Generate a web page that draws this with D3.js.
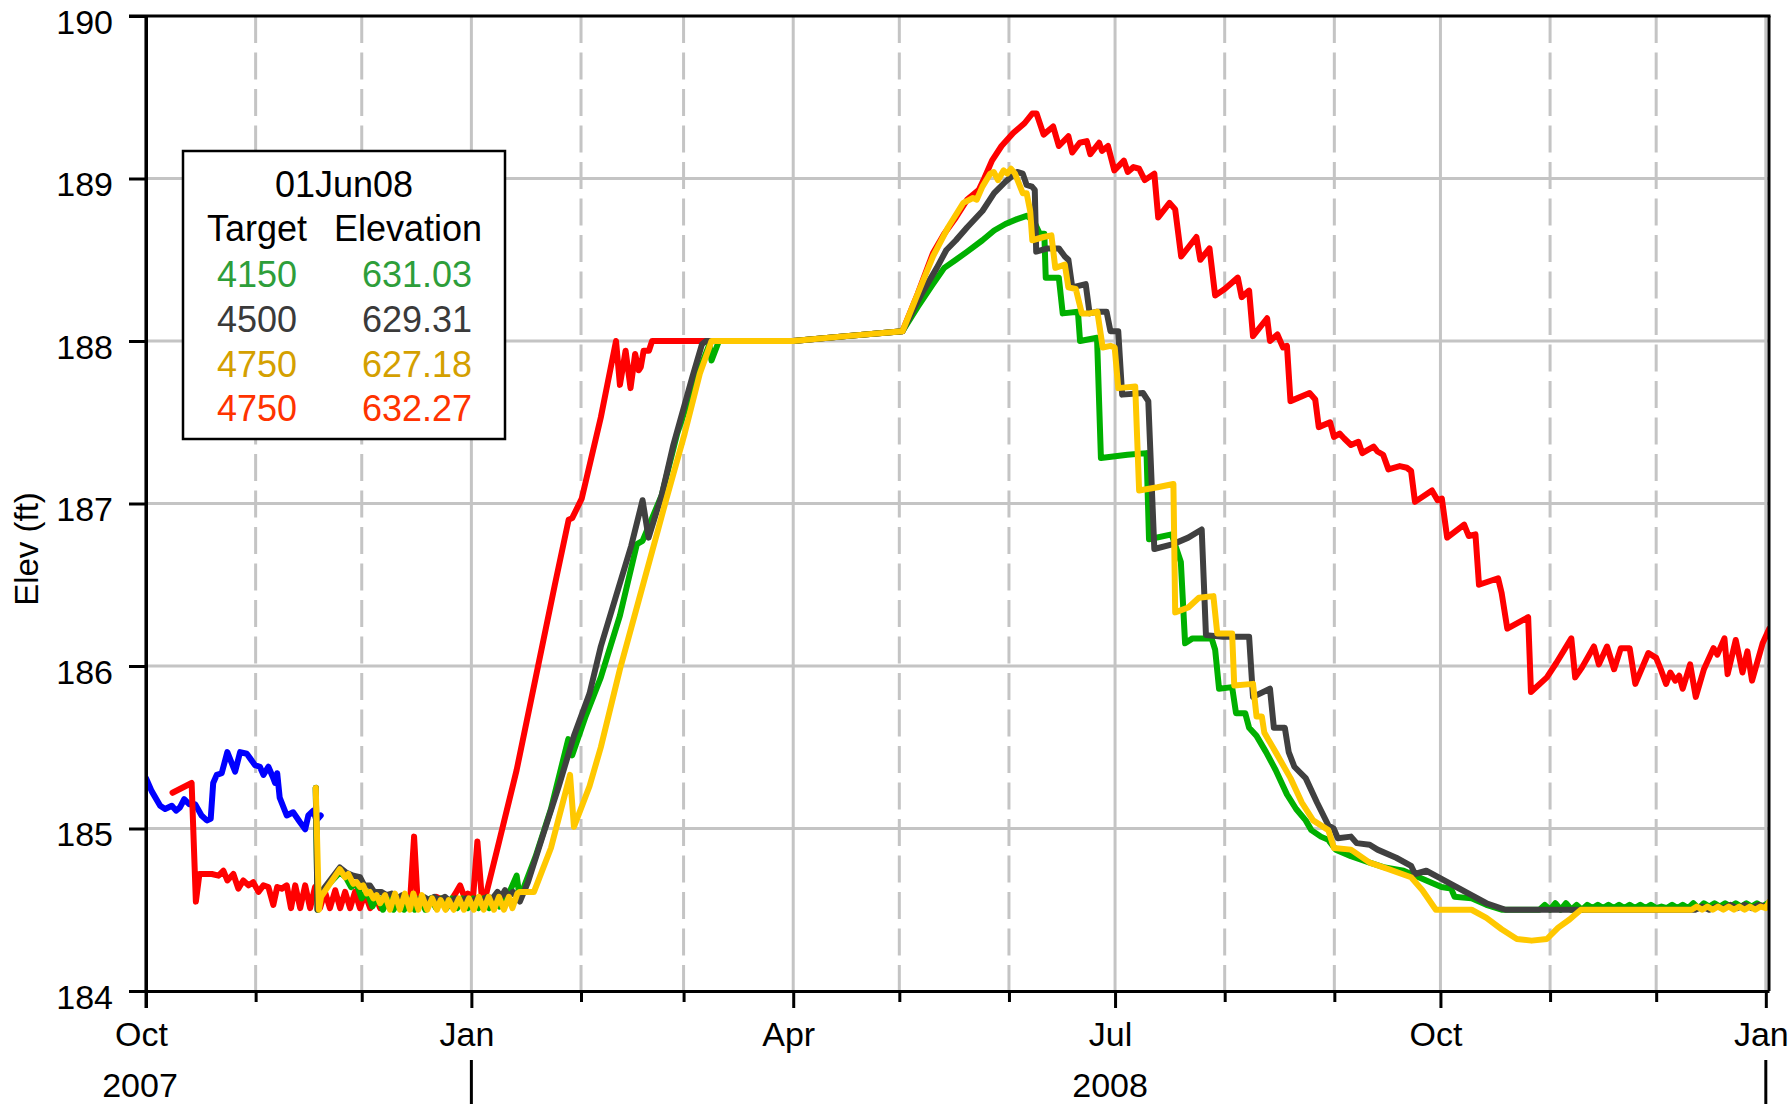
<!DOCTYPE html>
<html><head><meta charset="utf-8">
<script src="https://cdn.jsdelivr.net/npm/d3@7"></script>
<style>
body{margin:0;background:#fff}
svg{display:block}
text{font-family:"Liberation Sans",Arial,Helvetica,sans-serif}
</style>
</head><body>
<svg id="chart" width="1791" height="1104"></svg>
<script>
// ---------------- DATA ----------------
// Each point: [days since 1 Oct 2007, elevation (ft)]
const startDateUTC = [2007, 9, 1];
const endDayOffset = 458.9;
const yTickValues = [184, 185, 186, 187, 188, 189, 190];
const monthLabels = {0: "Jan", 3: "Apr", 6: "Jul", 9: "Oct"};
const yearLabels = [{year: "2007", at: 0}, {year: "2008", at: 274}];
const yearSeparators = [92, 458];
const yAxisTitle = "Elev (ft)";
const legendTitle = "01Jun08";
const legendHeader = ["Target", "Elevation"];
const legendTargets = ["4150", "4500", "4750", "4750"];
const legendElevations = ["631.03", "629.31", "627.18", "632.27"];

const observed = [[0,185.31],[1.6,185.23],[4,185.14],[5.4,185.12],[7.3,185.14],[8.5,185.11],[9.6,185.13],[10.8,185.18],[12.2,185.15],[13.9,185.15],[15.7,185.08],[17.2,185.05],[18.3,185.06],[19,185.28],[20,185.33],[21.4,185.34],[23,185.47],[25.2,185.35],[26.6,185.47],[28.5,185.46],[29.5,185.43],[30.8,185.39],[32.2,185.38],[33.2,185.33],[34.6,185.38],[35.8,185.32],[36.5,185.28],[37.1,185.34],[37.8,185.19],[39.8,185.08],[41.6,185.10],[43.5,185.04],[45,184.995],[45.9,185.08],[47.3,185.11],[48.2,185.05],[49.4,185.08]];

const target4750b = [[7.5,185.22],[12.9,185.28],[14.1,184.55],[15.1,184.72],[18.6,184.72],[20.5,184.71],[21.9,184.74],[23,184.68],[24.7,184.72],[26.1,184.63],[27.5,184.68],[29,184.65],[30.3,184.67],[31.8,184.61],[33.2,184.65],[34.6,184.64],[36,184.53],[37.1,184.64],[38.4,184.63],[39.8,184.65],[41,184.51],[42.2,184.65],[43.6,184.51],[45,184.65],[46.4,184.51],[47.8,184.64],[49.2,184.51],[50.6,184.61],[52,184.51],[53.5,184.62],[54.9,184.51],[56.3,184.61],[57.7,184.51],[59.1,184.61],[60.5,184.51],[61.9,184.60],[63.4,184.51],[64.8,184.59],[66.2,184.51],[67.6,184.59],[69,184.51],[70.4,184.58],[71.8,184.51],[73.2,184.58],[74.6,184.53],[75.8,184.95],[76.8,184.55],[78.5,184.57],[80,184.54],[82,184.58],[84,184.56],[86,184.55],[87.5,184.60],[88.8,184.65],[90,184.58],[91,184.60],[92.5,184.58],[93.7,184.92],[95,184.56],[96.1,184.59],[99.4,184.88],[104.8,185.36],[110.2,185.93],[115.6,186.50],[119.5,186.90],[120.5,186.91],[123.2,187.03],[128.6,187.53],[132.9,188.0],[134,187.73],[135.6,187.94],[137,187.71],[138.3,187.92],[139.3,187.82],[139.9,187.84],[140.7,187.94],[142.2,187.94],[143.1,188.0],[157.7,188.0],[183,188.0],[198,188.03],[213.9,188.06],[218.2,188.29],[222.5,188.54],[225.7,188.66],[229,188.76],[232.2,188.87],[235.5,188.93],[237,189.0],[239.2,189.11],[241.9,189.20],[245.2,189.28],[248.4,189.34],[250.6,189.40],[251.8,189.40],[253.8,189.27],[256.5,189.32],[258.1,189.20],[260.8,189.26],[261.9,189.16],[264,189.22],[266,189.23],[267,189.15],[269.5,189.22],[270.3,189.17],[272,189.20],[273.8,189.05],[276.5,189.11],[277.6,189.04],[279.2,189.07],[280.8,189.06],[282.4,188.99],[285.1,189.03],[286.2,188.76],[289.4,188.85],[291,188.81],[292.7,188.52],[297,188.64],[298.1,188.50],[300.7,188.57],[302.3,188.28],[305,188.32],[308.7,188.39],[309.8,188.27],[311.9,188.31],[313,188.03],[317,188.14],[317.8,188.0],[319.9,188.04],[321.5,187.96],[322.6,187.97],[323.6,187.63],[329,187.68],[330.6,187.64],[331.6,187.47],[334.8,187.50],[335.9,187.41],[337.5,187.43],[338.8,187.40],[340.7,187.36],[342.8,187.38],[343.9,187.31],[347.1,187.35],[348.2,187.32],[349.8,187.30],[351.3,187.21],[354.5,187.23],[356.5,187.22],[357.7,187.20],[358.8,187.01],[363.6,187.08],[365.2,187.02],[366.4,187.03],[367.9,186.79],[372.7,186.87],[374,186.80],[375.9,186.81],[376.9,186.50],[382.3,186.54],[383.3,186.45],[384.9,186.23],[390.8,186.30],[391.6,185.84],[396.1,185.93],[398.8,186.02],[403,186.17],[404.1,185.93],[406,185.99],[409.4,186.12],[410.8,186.01],[413.1,186.12],[415.1,185.98],[417,186.11],[419.5,186.11],[421.1,185.89],[424.8,186.08],[427,186.05],[428.3,185.98],[429.8,185.89],[431,185.96],[432.4,185.91],[433.5,185.94],[434.5,185.86],[436.6,186.01],[438.2,185.81],[440.5,185.98],[443.2,186.11],[444.3,186.07],[446.3,186.17],[447.2,185.95],[449.5,186.16],[451.4,185.96],[452.8,186.09],[454.1,185.91],[457.1,186.14],[459,186.23]];

const target4150 = [[48,185.25],[48.5,184.50],[49.2,184.60],[54.8,184.73],[56.5,184.70],[58,184.64],[59.5,184.66],[61,184.57],[62.5,184.61],[64,184.52],[65.5,184.58],[67,184.50],[68.5,184.57],[70,184.50],[71.5,184.57],[73,184.50],[74.5,184.57],[76,184.50],[77.5,184.57],[79,184.50],[80.5,184.57],[82,184.51],[83.5,184.57],[85,184.51],[86.5,184.57],[88,184.51],[89.5,184.57],[91,184.51],[92.5,184.57],[94,184.51],[95.5,184.57],[97,184.51],[98.5,184.57],[100,184.52],[101.5,184.58],[103,184.62],[104.8,184.71],[105.5,184.60],[106.5,184.62],[110.2,184.83],[114.5,185.12],[119.4,185.55],[120.5,185.45],[124.3,185.69],[128.6,185.93],[134,186.31],[138.8,186.75],[140.4,186.77],[145.8,187.05],[150.2,187.43],[154.5,187.71],[159.3,187.98],[159.9,187.88],[162,188.0],[183,188.0],[198,188.03],[213.9,188.06],[218.2,188.21],[222.5,188.35],[225.7,188.45],[229,188.50],[232.2,188.55],[236.5,188.62],[239.8,188.68],[243,188.72],[246.3,188.75],[249,188.77],[251,188.74],[252.7,188.66],[254,188.66],[254.4,188.39],[258.1,188.39],[259.2,188.17],[263.5,188.18],[264.1,188.0],[268.9,188.02],[270,187.28],[277.5,187.30],[282.9,187.31],[283.6,186.78],[290,186.81],[292.6,186.64],[293.8,186.14],[295.9,186.17],[301.3,186.17],[302.3,186.10],[303.4,185.86],[307.1,185.87],[308.2,185.71],[310.8,185.71],[311.9,185.62],[314,185.57],[316.7,185.47],[319.4,185.36],[322.6,185.21],[325.2,185.12],[327.9,185.05],[329.5,184.99],[332.2,184.95],[334.3,184.93],[336.4,184.87],[340.7,184.83],[346,184.79],[350.3,184.76],[355.6,184.74],[362,184.68],[366.3,184.64],[369,184.63],[370,184.58],[374.8,184.57],[379,184.53],[383.3,184.50],[394,184.50],[395.5,184.53],[397,184.50],[398.5,184.54],[400,184.50],[401.5,184.54],[403,184.50],[404.5,184.53],[406,184.50],[407.5,184.53],[409,184.51],[410.5,184.53],[412,184.51],[413.5,184.53],[415,184.51],[416.5,184.53],[418,184.51],[419.5,184.53],[421,184.51],[422.5,184.53],[424,184.51],[425.5,184.53],[427,184.51],[428.5,184.52],[430,184.51],[431.5,184.53],[433,184.51],[434.5,184.53],[436,184.51],[437.5,184.54],[439,184.51],[440.5,184.54],[442,184.52],[443.5,184.54],[445,184.52],[446.5,184.54],[448,184.52],[449.5,184.54],[451,184.52],[452.5,184.54],[454,184.52],[455.5,184.54],[457,184.52],[458.5,184.54],[459,184.54]];

const target4500 = [[48,185.25],[48.5,184.50],[49.2,184.60],[54.8,184.76],[56.5,184.73],[58.6,184.71],[60.5,184.70],[61.7,184.65],[63.3,184.65],[64.5,184.61],[66.5,184.61],[68,184.59],[69.5,184.60],[71,184.57],[72.5,184.59],[74,184.56],[75.5,184.58],[77,184.56],[78.5,184.58],[80,184.56],[81.5,184.58],[83,184.56],[84.5,184.58],[86,184.55],[87.5,184.57],[89,184.55],[90.5,184.57],[92,184.55],[93.5,184.57],[95,184.55],[96.5,184.58],[98,184.57],[99.4,184.61],[100.5,184.58],[101.5,184.62],[102.5,184.58],[103.8,184.61],[105.7,184.55],[108,184.67],[112.4,184.97],[116.7,185.26],[121,185.57],[125.4,185.83],[128.6,186.12],[132.9,186.43],[137.2,186.74],[140.4,187.02],[142.1,186.79],[145.8,187.05],[149.1,187.36],[154.5,187.78],[157.2,187.98],[158.3,188.0],[183,188.0],[198,188.03],[213.9,188.06],[219.3,188.29],[223.6,188.45],[226.3,188.56],[229,188.62],[232.2,188.70],[236.5,188.80],[239.8,188.91],[243,188.98],[244.6,189.01],[246.3,189.04],[247.9,189.03],[249,188.96],[250.5,188.95],[251.3,188.93],[251.7,188.55],[254.9,188.57],[258.1,188.57],[259.8,188.52],[260.8,188.50],[261.9,188.33],[265.7,188.35],[266.8,188.17],[268.9,188.18],[271.6,188.18],[272.7,188.06],[274.9,188.06],[276,187.67],[281.9,187.68],[283.4,187.63],[285.1,186.72],[290.4,186.75],[294.7,186.79],[298.5,186.84],[299.7,186.19],[304.5,186.18],[311.9,186.18],[313,185.81],[317.8,185.86],[318.9,185.62],[322,185.62],[323.1,185.47],[324.7,185.38],[327.9,185.31],[331.1,185.16],[334.3,185.02],[335.8,185.00],[337,184.94],[340.7,184.95],[342.3,184.91],[346,184.90],[348.2,184.87],[353.5,184.82],[357.7,184.77],[358.8,184.72],[362,184.74],[366.3,184.69],[370.5,184.64],[374.8,184.59],[379,184.54],[384.4,184.50],[438,184.50],[440,184.52],[442,184.50],[444,184.52],[446,184.51],[448,184.53],[450,184.51],[452,184.53],[454,184.51],[456,184.53],[458,184.52],[459,184.53]];

const target4750 = [[48,185.25],[48.9,184.50],[49.5,184.58],[54.8,184.75],[56.3,184.70],[57.2,184.72],[58.6,184.66],[59.5,184.67],[60.5,184.64],[61.4,184.65],[62.4,184.60],[63.3,184.61],[64.3,184.57],[65.2,184.59],[66.2,184.54],[67.6,184.59],[69,184.50],[70.4,184.60],[71.8,184.50],[73.2,184.60],[74.6,184.50],[75.6,184.60],[77,184.50],[78,184.59],[79.5,184.50],[80.9,184.57],[82.3,184.50],[83.3,184.56],[84.7,184.50],[85.6,184.56],[87,184.50],[88.5,184.57],[89.9,184.50],[91.3,184.57],[92.7,184.50],[94.1,184.58],[95.5,184.50],[96.9,184.58],[98.4,184.50],[99.8,184.58],[101.2,184.50],[102.6,184.58],[103.6,184.51],[105,184.60],[105.7,184.61],[109.7,184.61],[114.5,184.88],[119.9,185.33],[121,185.01],[125.4,185.26],[128.6,185.50],[134,185.98],[139.4,186.41],[144.8,186.84],[146.9,187.01],[152.3,187.43],[156.6,187.80],[159.9,188.0],[183,188.0],[198,188.03],[213.9,188.06],[218.2,188.29],[222.5,188.52],[226.8,188.70],[231.1,188.85],[233.8,188.88],[234.9,188.87],[236.5,188.95],[238.7,189.03],[239.7,189.04],[240.9,188.99],[242.5,189.05],[243.5,189.03],[244.6,189.06],[245.7,189.03],[246.8,188.97],[247.9,188.91],[249,188.91],[250,188.80],[250.6,188.62],[253.8,188.64],[256,188.65],[257.1,188.45],[259.8,188.47],[260.8,188.33],[262.9,188.32],[264.6,188.17],[266.8,188.17],[269,188.18],[270.5,187.96],[272.7,187.97],[273.9,187.96],[274.9,187.71],[279.7,187.72],[280.8,187.08],[286,187.10],[290.5,187.12],[291,186.33],[294.7,186.36],[297.7,186.42],[301.8,186.43],[302.9,186.20],[307.1,186.20],[307.7,185.88],[313,185.89],[314,185.69],[315.5,185.69],[316.2,185.59],[319.4,185.47],[323.6,185.31],[326.8,185.16],[330,185.05],[334.3,184.99],[335.9,184.88],[340.7,184.87],[346,184.79],[351.3,184.75],[357.7,184.70],[360.9,184.62],[364.7,184.50],[374.8,184.50],[379,184.45],[383.3,184.38],[387.6,184.32],[391.8,184.31],[396.1,184.32],[399.3,184.39],[402.5,184.44],[405.7,184.50],[437,184.50],[438.5,184.52],[440,184.50],[441.5,184.52],[443,184.50],[444.5,184.52],[446,184.50],[447.5,184.52],[449,184.50],[450.5,184.52],[452,184.50],[453.5,184.52],[455,184.50],[456.5,184.52],[458,184.51],[459,184.55]];

// ---------------- STYLE ----------------
const seriesList = [
  {data: observed,    color: "#0000ff"},
  {data: target4750b, color: "#ff0000"},
  {data: target4150,  color: "#00b000"},
  {data: target4500,  color: "#404040"},
  {data: target4750,  color: "#ffc800"}
];
const legendColors = ["#2e9e3a", "#3a3a3a", "#d4a000", "#ff3300"];

const W = 1791, H = 1104;
const M = {left: 146, right: 1769, top: 16, bottom: 991};

const svg = d3.select("#chart");
svg.append("rect").attr("width", W).attr("height", H).attr("fill", "#fff");

const t0 = Date.UTC(...startDateUTC);
const toDate = d => new Date(t0 + d * 864e5);

const x = d3.scaleUtc().domain([toDate(0), toDate(endDayOffset)]).range([M.left, M.right]);
const y = d3.scaleLinear().domain([184, 190]).range([M.bottom, M.top]);

const months = d3.utcMonth.range(toDate(0), toDate(endDayOffset));
const isQuarter = m => m.getUTCMonth() % 3 === 0;

// Grid
const grid = svg.append("g");
grid.selectAll(".hg").data(yTickValues.filter(v => v > 184 && v < 190)).join("line")
  .attr("x1", M.left).attr("x2", M.right)
  .attr("y1", d => y(d)).attr("y2", d => y(d))
  .attr("stroke", "#c4c4c4").attr("stroke-width", 3);
grid.selectAll(".vg").data(months).join("line")
  .attr("x1", d => x(d)).attr("x2", d => x(d))
  .attr("y1", M.top).attr("y2", M.bottom)
  .attr("stroke", "#c4c4c4").attr("stroke-width", 3)
  .attr("stroke-dasharray", d => isQuarter(d) ? null : "27 9.5");

// Series
const clip = svg.append("clipPath").attr("id", "clip").append("rect")
  .attr("x", M.left).attr("y", M.top - 4).attr("width", M.right - M.left).attr("height", M.bottom - M.top + 4);
const line = d3.line().x(d => x(toDate(d[0]))).y(d => y(d[1]));
const lines = svg.append("g").attr("clip-path", "url(#clip)");
seriesList.forEach(s => {
  lines.append("path").datum(s.data).attr("d", line)
    .attr("fill", "none").attr("stroke", s.color).attr("stroke-width", 6)
    .attr("stroke-linejoin", "round").attr("stroke-linecap", "round");
});

// Frame: top and right
svg.append("line").attr("x1", 129).attr("x2", M.right + 1.5).attr("y1", M.top).attr("y2", M.top)
  .attr("stroke", "#000").attr("stroke-width", 3);
svg.append("line").attr("x1", M.right).attr("x2", M.right).attr("y1", M.top).attr("y2", M.bottom)
  .attr("stroke", "#000").attr("stroke-width", 3);

// Y axis
const yAxis = d3.axisLeft(y).tickValues(yTickValues).tickSize(17).tickSizeOuter(0).tickPadding(16)
  .tickFormat(d3.format("d"));
const gy = svg.append("g").attr("transform", `translate(${M.left},0)`).call(yAxis);
gy.select(".domain").attr("stroke", "#000").attr("stroke-width", 3);
gy.selectAll(".tick line").attr("stroke", "#000").attr("stroke-width", 3);
gy.selectAll(".tick text").attr("font-size", 34).attr("fill", "#000")
  .attr("dy", 0).attr("y", 17).attr("x", -33)
  .style("font-family", '"Liberation Sans",Arial,sans-serif');

// X axis
const xAxis = d3.axisBottom(x).tickValues(months).tickSize(17).tickSizeOuter(0)
  .tickFormat(d => isQuarter(d) ? monthLabels[d.getUTCMonth()] : "");
const gx = svg.append("g").attr("transform", `translate(0,${M.bottom})`).call(xAxis);
gx.select(".domain").attr("stroke", "#000").attr("stroke-width", 3);
gx.selectAll(".tick line").attr("stroke", "#000").attr("stroke-width", 3)
  .attr("y2", d => isQuarter(d) ? 17 : 11);
gx.selectAll(".tick text").attr("font-size", 34).attr("fill", "#000")
  .attr("dy", 0).attr("y", 55).attr("x", -5)
  .style("font-family", '"Liberation Sans",Arial,sans-serif');
// left axis line extended over x-axis start
svg.append("line").attr("x1", M.left).attr("x2", M.left).attr("y1", M.top).attr("y2", M.bottom + 17)
  .attr("stroke", "#000").attr("stroke-width", 3);

// Year labels and separators
svg.selectAll(".yearlab").data(yearLabels).join("text")
  .attr("x", (d, i) => x(toDate(d.at)) + (i === 0 ? -6 : -5))
  .attr("y", 1097).attr("text-anchor", "middle").attr("font-size", 34).attr("fill", "#000")
  .text(d => d.year);
svg.selectAll(".yearsep").data(yearSeparators).join("line")
  .attr("x1", d => x(toDate(d))).attr("x2", d => x(toDate(d)))
  .attr("y1", 1060).attr("y2", H).attr("stroke", "#000").attr("stroke-width", 3);

// Y axis title
svg.append("text").attr("transform", "translate(38,549) rotate(-90)")
  .attr("text-anchor", "middle").attr("font-size", 33).attr("fill", "#000").text(yAxisTitle);

// Legend
const lg = svg.append("g");
lg.append("rect").attr("x", 183).attr("y", 151).attr("width", 322).attr("height", 288)
  .attr("fill", "#fff").attr("stroke", "#000").attr("stroke-width", 2.5);
lg.append("text").attr("x", 344).attr("y", 197).attr("text-anchor", "middle")
  .attr("font-size", 36).attr("fill", "#000").text(legendTitle);
lg.append("text").attr("x", 257).attr("y", 241).attr("text-anchor", "middle")
  .attr("font-size", 36).attr("fill", "#000").text(legendHeader[0]);
lg.append("text").attr("x", 408).attr("y", 241).attr("text-anchor", "middle")
  .attr("font-size", 36).attr("fill", "#000").text(legendHeader[1]);
lg.selectAll(".lt").data(legendTargets).join("text")
  .attr("x", 257).attr("y", (d, i) => 287 + i * 44.8).attr("text-anchor", "middle")
  .attr("font-size", 36).attr("fill", (d, i) => legendColors[i]).text(d => d);
lg.selectAll(".le").data(legendElevations).join("text")
  .attr("x", 417).attr("y", (d, i) => 287 + i * 44.8).attr("text-anchor", "middle")
  .attr("font-size", 36).attr("fill", (d, i) => legendColors[i]).text(d => d);
</script>
</body></html>
